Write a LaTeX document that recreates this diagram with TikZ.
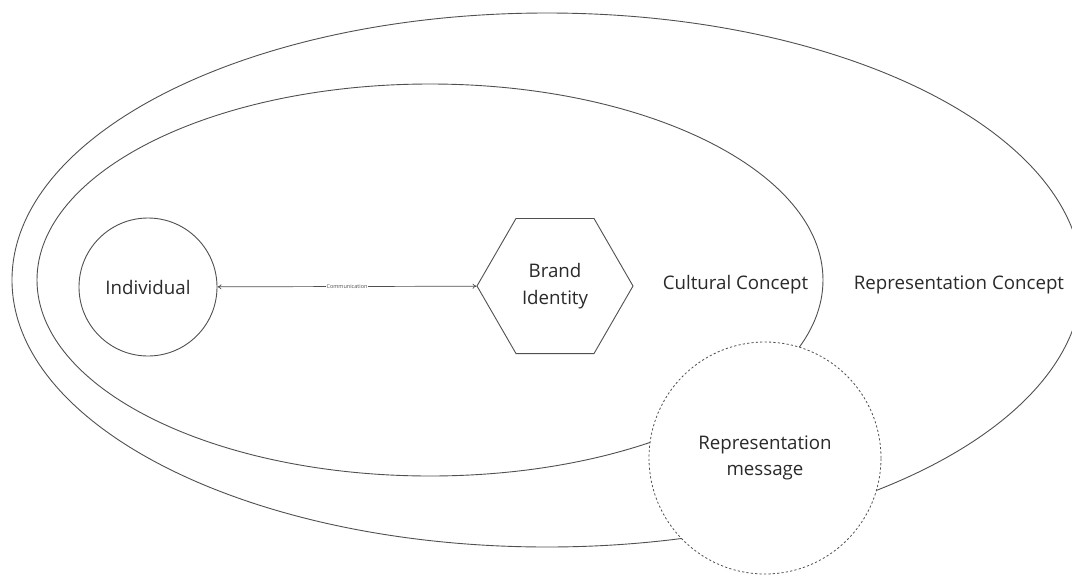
\documentclass[tikz,border=0pt]{standalone}
\usepackage{fontspec}
\setmainfont{Open Sans}
\usetikzlibrary{shapes.geometric,arrows.meta}
\definecolor{linec}{HTML}{505050}
\definecolor{textc}{HTML}{2A2A2A}
\tikzset{
  region/.style={draw=linec, line width=0.9pt, ellipse, inner sep=0pt},
  lbl/.style={text=textc, font=\fontsize{18.7}{26.5}\selectfont, align=center, inner sep=0pt},
  entity/.style={draw=linec, line width=0.9pt, fill=white, inner sep=0pt},
}
\begin{document}
\begin{tikzpicture}[x=1pt,y=-1pt]
\useasboundingbox (0,0) rectangle (1072,574);
\clip (0,0) rectangle (1072,574);
\fill[white] (0,0) rectangle (1072,574);
% regions
\node[region, minimum width=1070pt, minimum height=534pt] (outer) at (547,280) {};
\node[region, minimum width=786pt, minimum height=392pt] (inner) at (430,280) {};
% entities
\node[entity, circle, minimum size=138pt] (ind) at (148,287) {};
\node[lbl] (indt) at (148,287) {Individual};
\node[entity, regular polygon, regular polygon sides=6, minimum size=156pt] (brand) at (555,286) {};
\node[lbl] (brandt) at (555,286) {Brand\\Identity};
\draw[linec, line width=0.7pt, {To[length=4pt,width=5pt]}-{To[length=4pt,width=5pt]}] (ind) -- node[fill=white, inner sep=1pt, text=linec, font=\fontsize{5.5}{6}\selectfont] (comm) {Communication} (brand);
% dashed message circle
\node[draw=linec, line width=0.8pt, dash pattern=on 2.2pt off 2.2pt, fill=white, circle, minimum size=232pt, inner sep=0pt] (msg) at (765,458) {};
\node[lbl] (msgt) at (765,458) {Representation\\message};
% labels
\node[lbl] (cult) at (735.5,285) {Cultural Concept};
\node[lbl] (repc) at (959,285) {Representation Concept};
\end{tikzpicture}
\end{document}
